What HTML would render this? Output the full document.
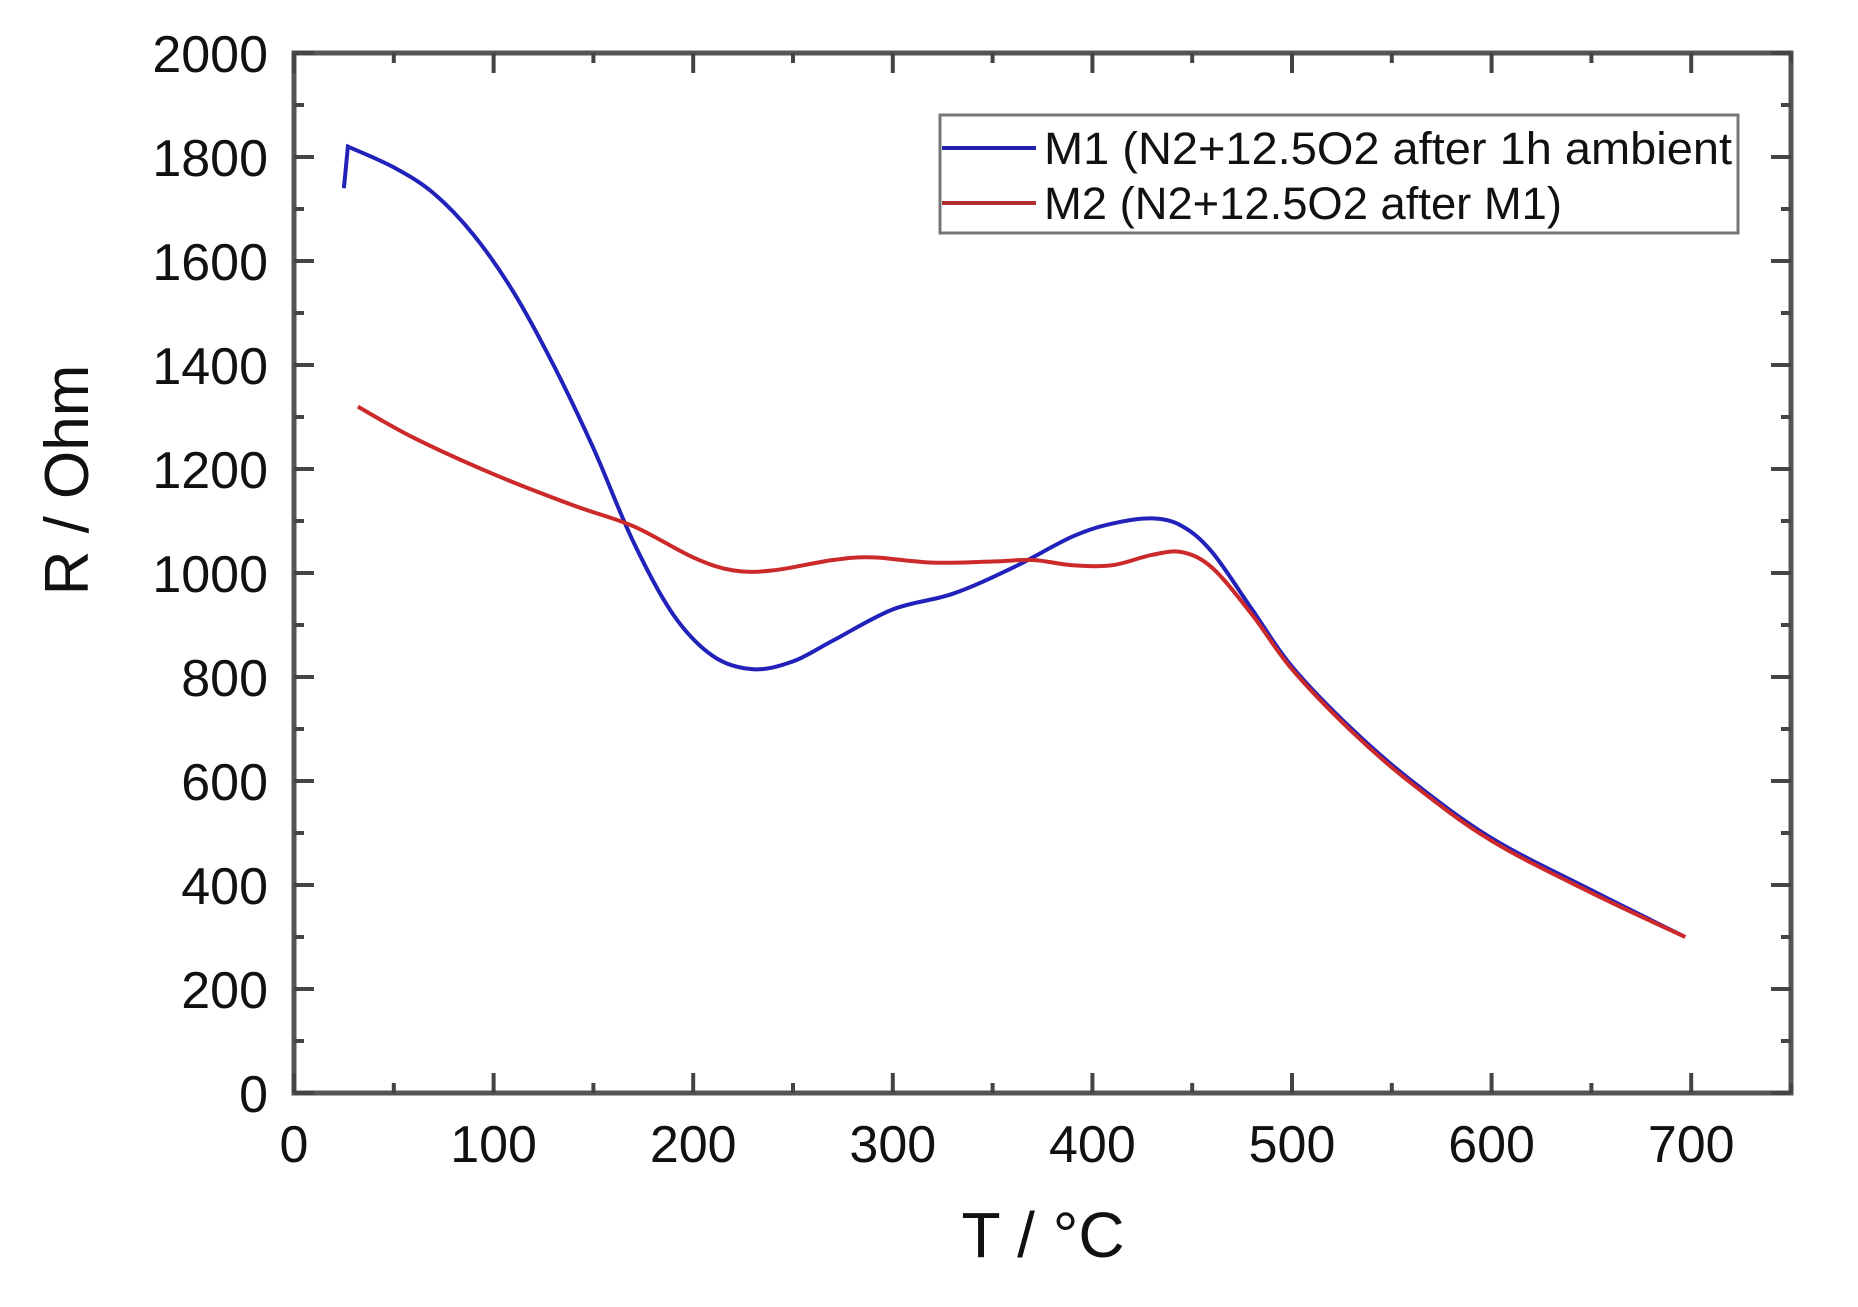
<!DOCTYPE html>
<html><head><meta charset="utf-8"><style>
html,body{margin:0;padding:0;background:#fff;}
svg{display:block;font-family:"Liberation Sans",Arial,sans-serif;}
</style></head><body>
<svg id="chart" width="1858" height="1307" viewBox="0 0 1858 1307">
<g id="axes"></g>
<g id="series"></g>
<g id="legend">
  <rect x="940" y="115" width="798" height="118" fill="#fff" stroke="#777" stroke-width="3"/>
  <line x1="942" y1="148" x2="1036" y2="148" stroke="#2222aa" stroke-width="4"/>
  <text x="1044" y="164" font-size="45" fill="#111" textLength="688" lengthAdjust="spacingAndGlyphs">M1 (N2+12.5O2 after 1h ambient</text>
  <line x1="942" y1="203" x2="1036" y2="203" stroke="#b03030" stroke-width="4"/>
  <text x="1044" y="219" font-size="45" fill="#111" textLength="518" lengthAdjust="spacingAndGlyphs">M2 (N2+12.5O2 after M1)</text>
</g>
<text x="1043" y="1257" font-size="64" text-anchor="middle" fill="#111">T / °C</text>
<text transform="translate(88,480) rotate(-90)" font-size="62" text-anchor="middle" fill="#111">R / Ohm</text>
</svg>
<script>
const xTicks = [0,100,200,300,400,500,600,700];
const yTicks = [0,200,400,600,800,1000,1200,1400,1600,1800,2000];
const m1T = [25,27,50,70,90,110,130,150,170,190,210,230,250,270,300,330,360,390,410,430,445,460,480,500,530,560,600,650,697];
const m1R = [1740,1820,1780,1730,1650,1540,1400,1240,1060,920,840,815,830,870,930,960,1010,1070,1095,1105,1090,1040,930,820,700,600,490,390,300];
const m2T = [32,60,100,140,170,200,220,240,270,290,320,350,370,390,410,430,445,460,480,500,530,560,600,650,697];
const m2R = [1320,1260,1190,1130,1090,1030,1005,1005,1025,1030,1020,1022,1025,1015,1015,1035,1040,1010,920,815,695,595,485,385,300];

const L=294,R=1791,T=53,B=1093,XMAX=750,YMAX=2000;
const sx=v=>L+(R-L)*v/XMAX, sy=v=>B-(B-T)*v/YMAX;
const NS='http://www.w3.org/2000/svg';
function mk(tag,attrs,parent){const e=document.createElementNS(NS,tag);for(const k in attrs)e.setAttribute(k,attrs[k]);parent.appendChild(e);return e;}
const ax=document.getElementById('axes');
const frame=mk('rect',{x:L,y:T,width:R-L,height:B-T,fill:'none',stroke:'#555','stroke-width':5},ax);


for(let v=0;v<=XMAX;v+=50){
  const major=v%100===0, len=major?20:10;
  const t1=mk('line',{x1:sx(v),x2:sx(v),y1:B,y2:B-len,stroke:'#444','stroke-width':4},ax);
  
  
  const t2=mk('line',{x1:sx(v),x2:sx(v),y1:T,y2:T+len,stroke:'#444','stroke-width':4},ax);
  
  
}
for(let v=0;v<=YMAX;v+=100){
  const major=v%200===0, len=major?20:10;
  const t1=mk('line',{x1:L,x2:L+len,y1:sy(v),y2:sy(v),stroke:'#444','stroke-width':4},ax);
  
  
  const t2=mk('line',{x1:R,x2:R-len,y1:sy(v),y2:sy(v),stroke:'#444','stroke-width':4},ax);
  
  
}
xTicks.forEach(v=>{
  const t=mk('text',{x:sx(v),y:B+69,'font-size':52,'text-anchor':'middle',fill:'#111'},ax);
  t.textContent=v;
  
  
});
yTicks.forEach(v=>{
  const t=mk('text',{x:268,y:sy(v)+19,'font-size':52,'text-anchor':'end',fill:'#111'},ax);
  t.textContent=v;
  
  
});
function path(xs,ys,sharpStart){
  let p=xs.map((x,i)=>[sx(x),sy(ys[i])]);
  let d='M'+p[0][0]+','+p[0][1];
  if(sharpStart){d+=' L'+p[1][0]+','+p[1][1];p=p.slice(1);}
  for(let i=0;i<p.length-1;i++){
    const p0=p[Math.max(0,i-1)],p1=p[i],p2=p[i+1],p3=p[Math.min(p.length-1,i+2)];
    const c1=[p1[0]+(p2[0]-p0[0])/6,p1[1]+(p2[1]-p0[1])/6];
    const c2=[p2[0]-(p3[0]-p1[0])/6,p2[1]-(p3[1]-p1[1])/6];
    d+=' C'+c1+' '+c2+' '+p2;
  }
  return d;
}
const sg=document.getElementById('series');
const l1=mk('path',{d:path(m1T,m1R,true),fill:'none',stroke:'#2222bb','stroke-width':4,'stroke-linejoin':'miter'},sg);


const l2=mk('path',{d:path(m2T,m2R,false),fill:'none',stroke:'#cc2a2a','stroke-width':4},sg);


</script>
</body></html>
